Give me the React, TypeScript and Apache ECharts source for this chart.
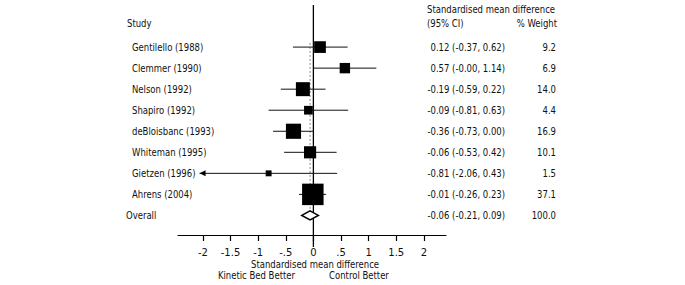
import React, { useEffect, useRef } from "react";
import * as echarts from "echarts";

const studies = [
  "Gentilello (1988)",
  "Clemmer (1990)",
  "Nelson (1992)",
  "Shapiro (1992)",
  "deBloisbanc (1993)",
  "Whiteman (1995)",
  "Gietzen (1996)",
  "Ahrens (2004)",
];
const smd = [0.12, 0.57, -0.19, -0.09, -0.36, -0.06, -0.81, -0.01];
const lower = [-0.37, -0.0, -0.59, -0.81, -0.73, -0.53, -2.06, -0.26];
const upper = [0.62, 1.14, 0.22, 0.63, 0.0, 0.42, 0.43, 0.23];
const weights = [9.2, 6.9, 14.0, 4.4, 16.9, 10.1, 1.5, 37.1];
const overallLabel = "Overall";
const overallEst = -0.06;
const overallLower = -0.21;
const overallUpper = 0.09;
const overallWeight = 100.0;
const xTicks = [-2, -1.5, -1, -0.5, 0, 0.5, 1, 1.5, 2];
const headerStudy = "Study";
const headerSmd = "Standardised mean difference";
const headerCI = "(95% CI)";
const headerWeight = "% Weight";
const xTitle = "Standardised mean difference";
const leftFavours = "Kinetic Bed Better";
const rightFavours = "Control Better";

const FONT = '"DejaVu Sans", Verdana, sans-serif';
const SX = 0.85;
const X_MIN = -2.45;
const X_MAX = 2.4;
const Y_MIN = -1;
const Y_MAX = 9.93;

const f2 = (v: number) =>
  (v < 0 || Object.is(v, -0) ? "-" : "") + Math.abs(v).toFixed(2);
const ciText = (e: number, l: number, u: number) =>
  `${f2(e)} (${f2(l)}, ${f2(u)})`;
const tickFmt = (v: number) =>
  v === 0 ? "0" : (v < 0 ? "-" : "") + String(Math.abs(v)).replace(/^0\./, ".");

const txt = (
  x: number,
  y: number,
  text: string,
  align: string = "left"
) => ({
  type: "text",
  x,
  y,
  scaleX: SX,
  silent: true,
  style: {
    x: 0,
    y: 0,
    text,
    align,
    verticalAlign: "middle",
    fontFamily: FONT,
    fontSize: 10,
    fill: "#111",
  },
});

export default function App() {
  const ref = useRef<HTMLDivElement>(null);
  useEffect(() => {
    if (!ref.current) return;
    const chart = echarts.init(ref.current, null, { renderer: "svg" });

    const NAME_X = 132;
    const STUDY_HDR_X = 127;
    const CI_RIGHT = 505;
    const CI_HDR_X = 427;
    const W_RIGHT = 556;

    const rowData = studies.map((s, i) => [
      smd[i],
      i + 1,
      lower[i],
      upper[i],
      weights[i],
      i,
    ]);

    const option: any = {
      animation: false,
      backgroundColor: "#fff",
      grid: { left: 178, right: 239, top: 5, bottom: 50 },
      xAxis: {
        type: "value",
        position: "bottom",
        min: X_MIN,
        max: X_MAX,
        axisLine: { show: true, onZero: false, lineStyle: { color: "#000", width: 1.2 } },
        axisTick: {
          show: true,
          length: 6,
          customValues: xTicks,
          lineStyle: { color: "#000", width: 1.2 },
        },
        axisLabel: {
          customValues: xTicks,
          formatter: tickFmt,
          margin: 12,
          fontFamily: FONT,
          fontSize: 10,
          color: "#111",
        },
        splitLine: { show: false },
      },
      yAxis: { type: "value", inverse: true, min: Y_MIN, max: Y_MAX, show: false },
      series: [
        {
          type: "custom",
          name: "reference",
          silent: true,
          data: [[0, overallEst]],
          renderItem: (params: any, api: any) => {
            const top = api.coord([0, Y_MIN]);
            const bot = api.coord([0, Y_MAX]);
            const dTop = api.coord([overallEst, 0.8]);
            const dBot = api.coord([overallEst, 9]);
            return {
              type: "group",
              children: [
                {
                  type: "line",
                  shape: { x1: dTop[0], y1: dTop[1], x2: dBot[0], y2: dBot[1] },
                  style: { stroke: "#888", lineWidth: 1, lineDash: [2, 2] },
                },
                {
                  type: "line",
                  shape: { x1: top[0], y1: top[1], x2: bot[0], y2: bot[1] + 12 },
                  style: { stroke: "#000", lineWidth: 1.3 },
                },
              ],
            };
          },
        },
        {
          type: "custom",
          name: "studies",
          silent: true,
          data: rowData,
          renderItem: (params: any, api: any) => {
            const est = api.value(0);
            const row = api.value(1);
            const lo = api.value(2);
            const hi = api.value(3);
            const w = api.value(4);
            const idx = api.value(5);
            const c = api.coord([est, row]);
            const l = api.coord([lo, row]);
            const h = api.coord([hi, row]);
            const side = 3.2 * Math.sqrt(w) + 2;
            const children: any[] = [
              {
                type: "line",
                shape: { x1: l[0], y1: l[1], x2: h[0], y2: h[1] },
                style: { stroke: "#111", lineWidth: 1 },
              },
              {
                type: "rect",
                shape: { x: c[0] - side / 2, y: c[1] - side / 2, width: side, height: side },
                style: { fill: "#000" },
              },
              txt(NAME_X, c[1], studies[idx], "left"),
              txt(CI_RIGHT, c[1], ciText(est, lo, hi), "right"),
              txt(W_RIGHT, c[1], w.toFixed(1), "right"),
            ];
            if (lo < xTicks[0]) {
              children.push({
                type: "polygon",
                shape: {
                  points: [
                    [l[0], l[1]],
                    [l[0] + 6, l[1] - 3],
                    [l[0] + 6, l[1] + 3],
                  ],
                },
                style: { fill: "#000" },
              });
            }
            return { type: "group", children };
          },
        },
        {
          type: "custom",
          name: "overall",
          silent: true,
          data: [[overallEst, 9, overallLower, overallUpper, overallWeight]],
          renderItem: (params: any, api: any) => {
            const est = api.value(0);
            const row = api.value(1);
            const lo = api.value(2);
            const hi = api.value(3);
            const w = api.value(4);
            const c = api.coord([est, row]);
            const l = api.coord([lo, row]);
            const h = api.coord([hi, row]);
            return {
              type: "group",
              children: [
                {
                  type: "polygon",
                  shape: {
                    points: [
                      [l[0], c[1]],
                      [c[0], c[1] - 4.5],
                      [h[0], c[1]],
                      [c[0], c[1] + 4.5],
                    ],
                  },
                  style: { fill: "#fff", stroke: "#000", lineWidth: 1.5 },
                },
                txt(126, c[1], overallLabel, "left"),
                txt(CI_RIGHT, c[1], ciText(est, lo, hi), "right"),
                txt(W_RIGHT, c[1], w.toFixed(1), "right"),
              ],
            };
          },
        },
        {
          type: "custom",
          name: "headers",
          silent: true,
          data: [[0]],
          renderItem: (params: any, api: any) => {
            const yTop = api.coord([0, -0.81])[1];
            const yHdr = api.coord([0, -0.145])[1];
            const axisY = api.coord([0, Y_MAX])[1];
            const xt = api.coord([0.03, Y_MAX]);
            const lf = api.coord([-1.03, Y_MAX]);
            const rf = api.coord([0.825, Y_MAX]);
            return {
              type: "group",
              children: [
                txt(STUDY_HDR_X, yHdr, headerStudy, "left"),
                txt(CI_HDR_X, yTop, headerSmd, "left"),
                txt(CI_HDR_X, yHdr, headerCI, "left"),
                txt(W_RIGHT + 1, yHdr, headerWeight, "right"),
                txt(xt[0], axisY + 29, xTitle, "center"),
                txt(lf[0], axisY + 40, leftFavours, "center"),
                txt(rf[0], axisY + 40, rightFavours, "center"),
              ],
            };
          },
        },
      ],
    };
    chart.setOption(option);
    return () => chart.dispose();
  }, []);
  return (
    <div
      ref={ref}
      style={{
        position: "fixed",
        left: 0,
        top: 0,
        width: 685,
        height: 285,
        background: "#fff",
      }}
    />
  );
}
